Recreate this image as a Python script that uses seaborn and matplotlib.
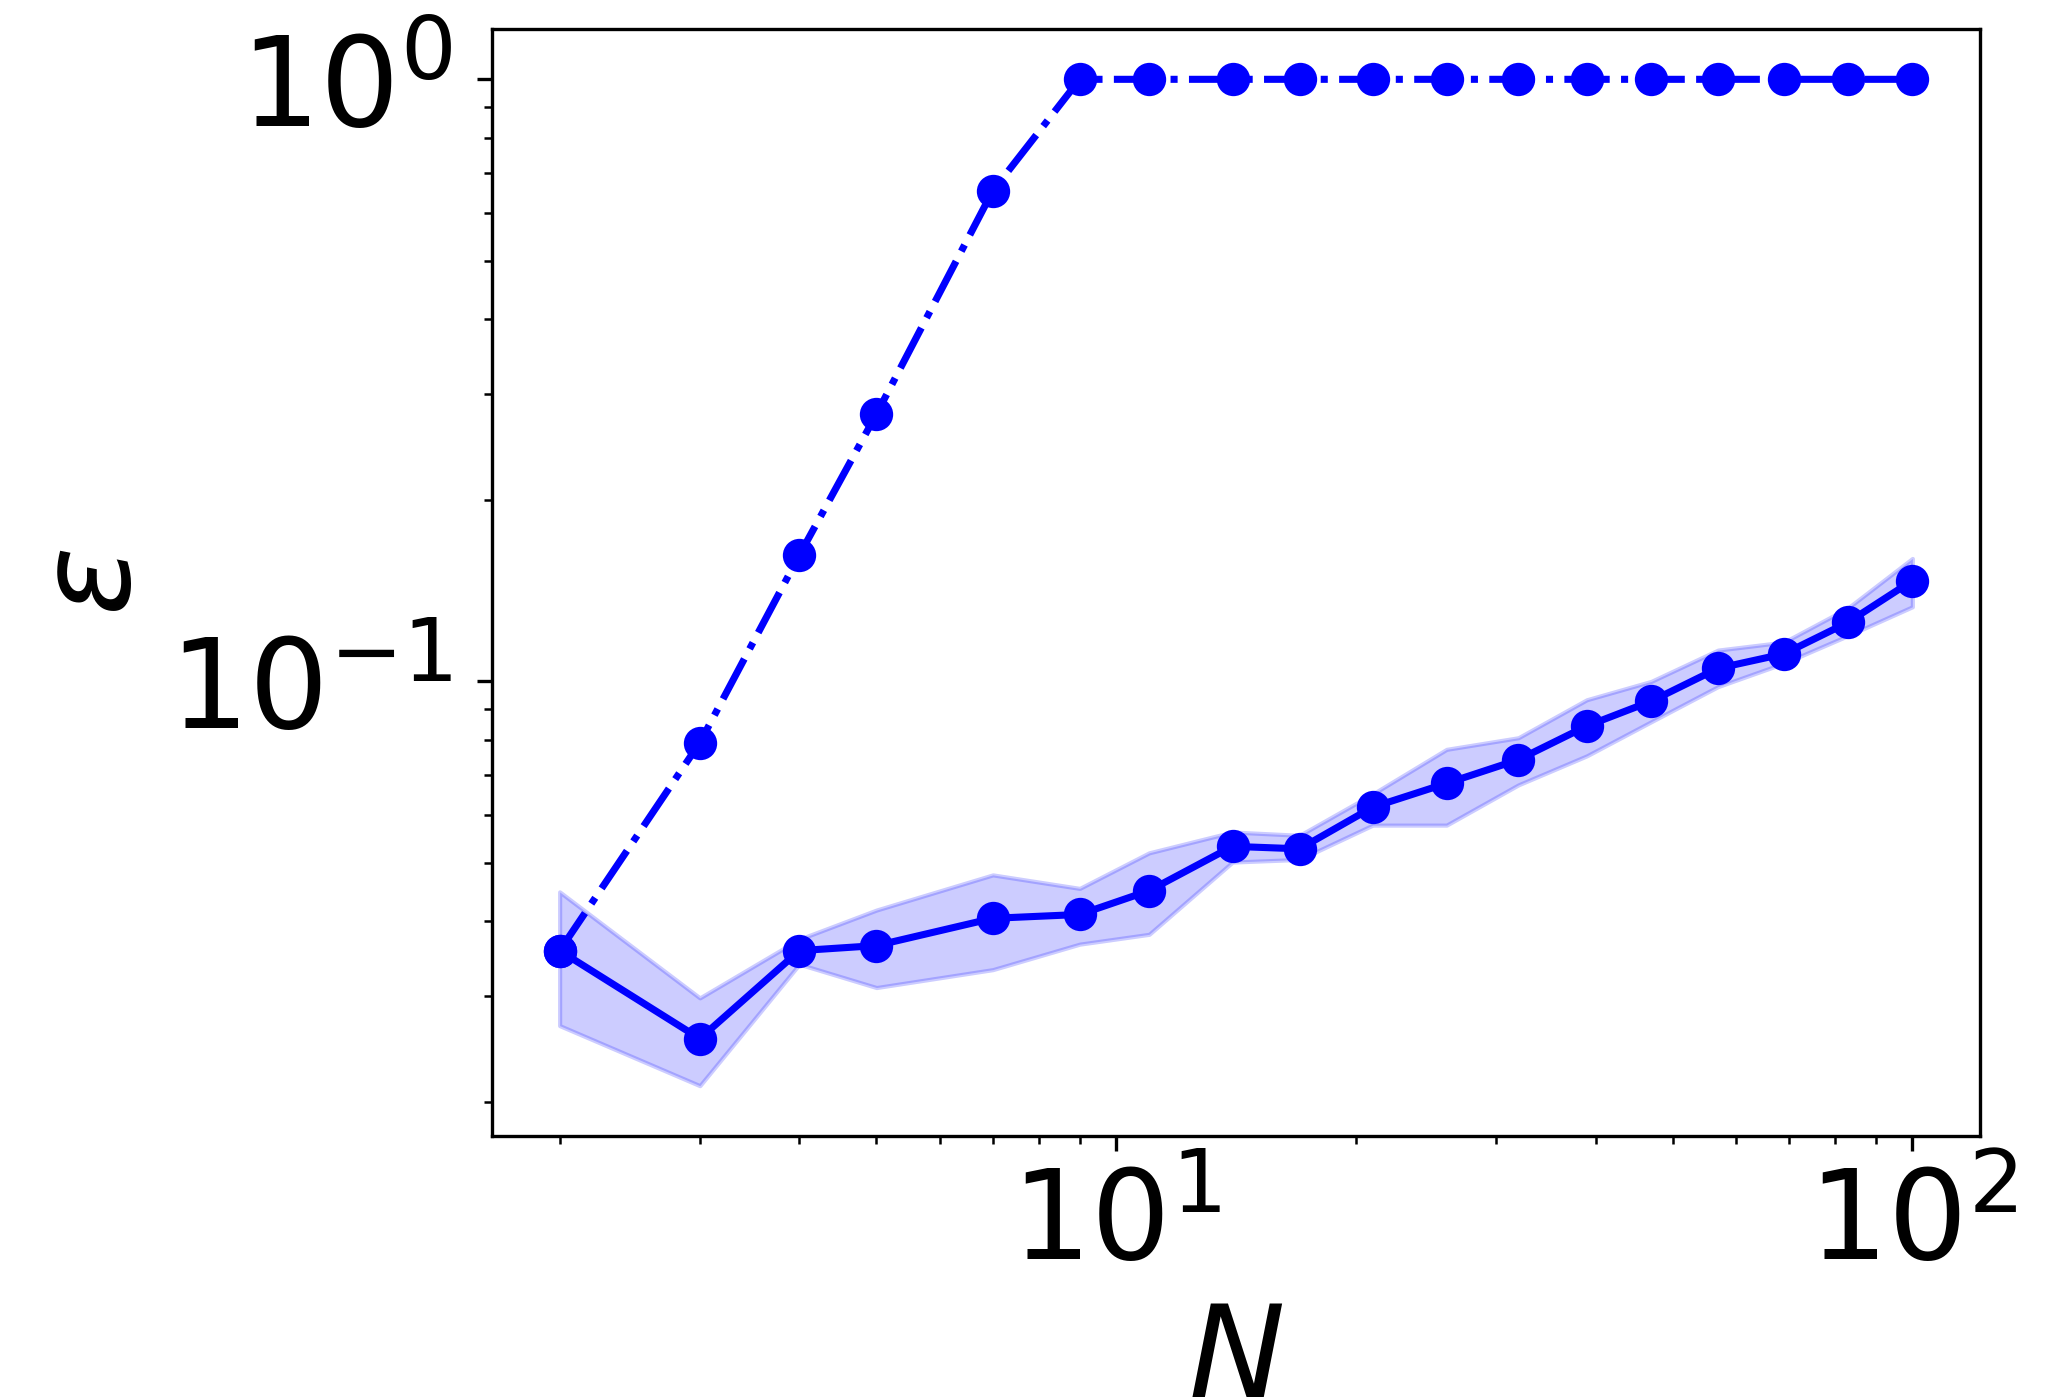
import numpy as np
import seaborn as sns
import matplotlib
matplotlib.use("Agg")
import matplotlib.pyplot as plt

# system sizes
N = [2, 3, 4, 5, 7, 9, 11, 14, 17, 21, 26, 32, 39, 47, 57, 69, 83, 100]

# upper curve (dash-dot)
eps_upper = [0.0357, 0.0791, 0.162, 0.278, 0.653, 1.0, 1.0, 1.0, 1.0, 1.0,
             1.0, 1.0, 1.0, 1.0, 1.0, 1.0, 1.0, 1.0]

# lower curve (solid) with spread band
eps_lower = [0.0357, 0.0255, 0.0357, 0.0364, 0.0404, 0.0410, 0.0449, 0.0532,
             0.0527, 0.0618, 0.0677, 0.0741, 0.0843, 0.0927, 0.1051, 0.1111,
             0.1253, 0.1470]
band_hi = [0.0447, 0.0298, 0.0373, 0.0417, 0.0477, 0.0453, 0.0519, 0.0562,
           0.0555, 0.0650, 0.0771, 0.0806, 0.0932, 0.1000, 0.1127, 0.1162,
           0.1324, 0.1600]
band_lo = [0.0268, 0.0213, 0.0339, 0.0310, 0.0332, 0.0366, 0.0380, 0.0501,
           0.0506, 0.0577, 0.0577, 0.0673, 0.0752, 0.0857, 0.0980, 0.1072,
           0.1191, 0.1330]

fig, ax = plt.subplots(figsize=(2053 / 300, 1400 / 300), dpi=300)
fig.subplots_adjust(left=492 / 2053, right=1980 / 2053,
                    top=1 - 29 / 1400, bottom=1 - 1136 / 1400)

ax.set_xscale("log")
ax.set_yscale("log")

line_kw = dict(color="b", marker="o", markersize=8, markeredgecolor="b",
               markeredgewidth=0, linewidth=1.7)

sns.lineplot(x=N, y=eps_upper, ax=ax, linestyle="-.", **line_kw)
sns.lineplot(x=N, y=eps_lower, ax=ax, linestyle="-", **line_kw)
ax.fill_between(N, band_lo, band_hi, color="b", alpha=0.2)

ax.set_xlabel(r"$N$", fontsize=31, labelpad=3)
ax.set_ylabel(r"$\epsilon$", fontsize=31, labelpad=3)
ax.tick_params(axis="both", which="major", labelsize=30)
ax.tick_params(axis="y", which="major", pad=6)

fig.savefig("out.png", dpi=300)
